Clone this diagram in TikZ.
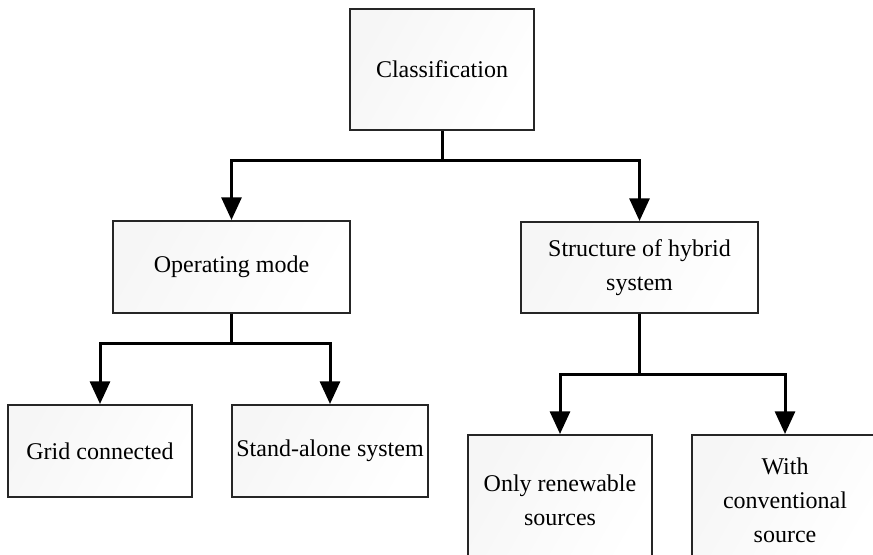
\documentclass[tikz,border=0pt]{standalone}
\usepackage{fontspec}
\setmainfont{Liberation Serif}
\usetikzlibrary{arrows.meta}
\begin{document}
\begin{tikzpicture}[x=0.75pt,y=-0.75pt,
  box/.style={draw=black!85,line width=1.5pt,left color=gray!7,right color=white,
    shading angle=60,inner sep=1pt,align=center,
    font=\fontsize{18}{25.5}\selectfont},
  link/.style={line width=2.25pt,black},
  arr/.style={link,-{Triangle[width=15pt,length=17pt]}}]
\useasboundingbox (0,0) rectangle (873,555);
\clip (0,0) rectangle (873,555);
% boxes
\node[box,minimum width=184*0.75pt,minimum height=121*0.75pt] (cls) at (442,69.5) {Classification};
\node[box,minimum width=237*0.75pt,minimum height=92*0.75pt] (op) at (231.5,267) {Operating mode};
\node[box,minimum width=237*0.75pt,minimum height=91*0.75pt] (str) at (639.5,267.5) {Structure of hybrid\\system};
\node[box,minimum width=184*0.75pt,minimum height=92*0.75pt] (grid) at (100,451) {Grid connected};
\node[box,minimum width=196*0.75pt,minimum height=92*0.75pt] (stand) at (330,451) {Stand-alone system};
\node[box,minimum width=184*0.75pt,minimum height=130*0.75pt] (only) at (560,500) {Only renewable\\sources};
\node[box,minimum width=186*0.75pt,minimum height=130*0.75pt] (conv) at (785,500) {With\\conventional\\source};
% junction points
\coordinate (j1) at (442,161);
\coordinate (j2) at (231.5,344);
\coordinate (j3) at (639.5,374);
% connectors
\draw[link] (cls.south) -- (j1);
\draw[arr] (j1) -| (op.north);
\draw[arr] (j1) -| (str.north);
\draw[link] (op.south) -- (j2);
\draw[arr] (j2) -| (grid.north);
\draw[arr] (j2) -| (stand.north);
\draw[link] (str.south) -- (j3);
\draw[arr] (j3) -| (only.north);
\draw[arr] (j3) -| (conv.north);
\end{tikzpicture}
\end{document}
